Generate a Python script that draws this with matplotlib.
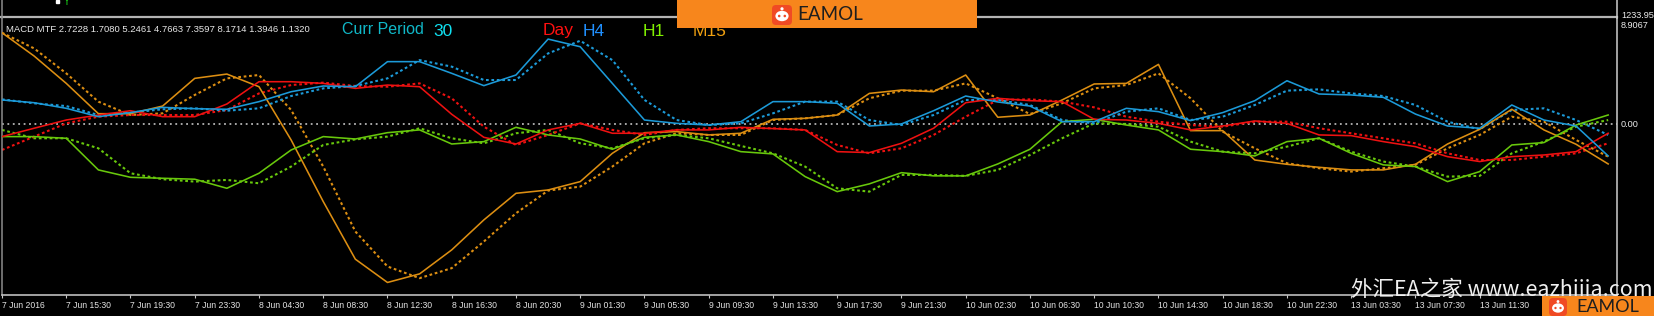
import numpy as np
import matplotlib.pyplot as plt
from matplotlib.patches import Rectangle, FancyBboxPatch, Ellipse
from matplotlib.lines import Line2D
from matplotlib.transforms import IdentityTransform

W, H = 1654, 316

# 30 min bars, one reading every 4 bars
bars = np.arange(0, 201, 4)

day_macd = [-1.03, -0.33, 0.36, 0.78, 1.14, 0.64, 0.64, 1.70, 3.57, 3.57, 3.43, 3.01, 3.29, 3.15, 0.84, -1.09, -1.65, -0.47,
            0.08, -0.75, -0.75, -0.47, -0.47, -0.25, -0.36, -0.47, -2.29, -2.37, -1.59, -0.33, 1.81, 2.18, 1.98, 1.90, 0.42,
            0.36, 0.08, -0.47, -0.14, 0.28, 0.08, -0.89, -0.95, -1.45, -1.87, -2.71, -3.12, -2.71, -2.57, -2.29, -0.75]
day_signal = [-2.15, -1.03, 0.08, 0.64, 0.78, 0.78, 0.78, 1.20, 2.59, 3.29, 3.49, 3.21, 3.15, 3.43, 2.18, -0.20, -1.73, -0.89,
              0.08, -0.47, -0.89, -0.47, -0.33, -0.33, -0.33, -0.47, -1.73, -2.43, -2.01, -0.89, 0.64, 2.04, 2.09, 1.90, 1.42,
              0.64, 0.22, -0.06, -0.20, 0.22, 0.22, -0.33, -0.75, -1.17, -1.59, -2.43, -2.99, -2.99, -2.71, -2.43, -1.59]

h4_macd = [2.04, 1.81, 1.34, 0.64, 0.98, 1.42, 1.31, 1.26, 1.90, 2.73, 3.21, 3.15, 5.25, 5.25, 4.27, 3.24, 4.13, 7.14,
           6.50, 3.43, 0.36, 0.08, -0.06, 0.22, 1.90, 1.90, 1.76, -0.14, 0.03, 1.14, 2.37, 1.87, 1.53, 0.22, 0.22,
           1.34, 1.06, 0.31, 0.98, 1.98, 3.65, 2.54, 2.46, 2.26, 0.86, -0.14, -0.33, 1.62, 0.36, -0.14, -2.65]
h4_signal = [2.09, 1.76, 1.53, 0.78, 0.98, 1.26, 1.34, 1.14, 1.34, 2.37, 3.01, 3.21, 3.85, 5.38, 4.83, 3.71, 3.71, 5.94,
             7.00, 5.38, 2.04, 0.36, -0.06, 0.08, 0.92, 1.90, 1.90, 0.36, -0.06, 0.78, 2.04, 2.04, 1.62, 0.36, 0.08,
             1.06, 1.34, 0.36, 0.64, 1.62, 2.82, 2.93, 2.59, 2.37, 1.62, 0.22, -0.42, 1.20, 1.34, 0.36, -0.89]

h1_macd = [-1.03, -1.03, -1.17, -3.82, -4.44, -4.52, -4.60, -5.36, -4.10, -2.15, -1.03, -1.23, -0.70, -0.47, -1.65, -1.45, -0.25, -0.89,
           -1.23, -2.09, -1.09, -0.89, -1.45, -2.29, -2.48, -4.38, -5.64, -4.99, -4.05, -4.32, -4.32, -3.32, -2.09, 0.22, 0.42,
           -0.06, -0.47, -2.09, -2.29, -2.65, -1.45, -1.17, -2.43, -3.40, -3.54, -4.80, -3.96, -1.73, -1.53, -0.06, 0.78]
h1_signal = [-0.47, -1.17, -1.17, -2.01, -4.10, -4.60, -4.80, -4.66, -4.94, -3.54, -1.73, -1.26, -1.03, -0.33, -1.17, -1.59, -0.75, -0.47,
             -1.59, -2.01, -1.17, -0.89, -1.17, -1.81, -2.43, -3.54, -5.36, -5.64, -4.24, -4.24, -4.32, -3.82, -2.57, -1.17, 0.08,
             0.03, -0.20, -1.45, -2.29, -2.43, -1.87, -1.17, -2.29, -3.12, -3.54, -4.38, -4.32, -2.43, -1.45, -0.20, 0.36]

m15_macd = [7.67, 5.72, 3.43, 0.89, 0.89, 1.53, 3.85, 4.21, 3.15, -1.31, -6.47, -11.30, -13.25, -12.53, -10.52, -8.01, -5.78, -5.50,
            -4.80, -2.43, -0.70, -0.61, -0.89, -0.75, 0.42, 0.50, 0.78, 2.59, 2.87, 2.73, 4.13, 0.59, 0.78, 2.04, 3.38,
            3.43, 5.02, -0.53, -0.53, -2.99, -3.35, -3.60, -3.82, -3.82, -3.35, -1.65, -0.42, 1.26, -0.47, -1.67, -3.32]
m15_signal = [7.67, 6.36, 4.27, 1.90, 0.78, 0.92, 2.46, 3.85, 4.13, 1.20, -3.54, -8.98, -11.91, -12.89, -12.05, -9.82, -7.45, -5.55,
              -5.22, -3.54, -1.59, -0.75, -0.89, -0.89, 0.36, 0.50, 0.78, 2.18, 2.82, 2.82, 3.43, 2.18, 0.86, 1.76, 3.01,
              3.29, 4.27, 2.18, -0.61, -2.01, -3.26, -3.68, -3.96, -3.68, -3.40, -2.01, -0.89, 0.64, 0.22, -1.31, -2.71]

# the label at bar 192 sits under the logo box in the screenshot
tick_bars = np.arange(0, 185, 8)
tick_labels = ['7 Jun 2016', '7 Jun 15:30', '7 Jun 19:30', '7 Jun 23:30', '8 Jun 04:30', '8 Jun 08:30',
               '8 Jun 12:30', '8 Jun 16:30', '8 Jun 20:30', '9 Jun 01:30', '9 Jun 05:30', '9 Jun 09:30',
               '9 Jun 13:30', '9 Jun 17:30', '9 Jun 21:30', '10 Jun 02:30', '10 Jun 06:30', '10 Jun 10:30',
               '10 Jun 14:30', '10 Jun 18:30', '10 Jun 22:30', '13 Jun 03:30', '13 Jun 07:30', '13 Jun 11:30']

buffer_values = '2.7228 1.7080 5.2461 4.7663 7.3597 8.1714 1.3946 1.1320'
y_top, y_bottom = 8.9067, -14.30

col_day = '#ee1111'
col_h4 = '#1c9ad8'
col_h1 = '#68c80c'
col_m15 = '#dc8e12'


def fx(px):
    return px / W


def fy(py):
    return 1 - py / H


fig = plt.figure(figsize=(W / 100, H / 100), dpi=100, facecolor='black')
ax = fig.add_axes([fx(2), fy(295), (1617 - 2) / W, (295 - 18) / H], facecolor='black')

ax.axhline(0, color='#b4b4b4', lw=1.3, ls=(0, (1, 2)), zorder=1)

dots = (0, (1.3, 1.3))
for macd, signal, col in [(m15_macd, m15_signal, col_m15), (h1_macd, h1_signal, col_h1),
                          (day_macd, day_signal, col_day), (h4_macd, h4_signal, col_h4)]:
    ax.plot(bars, macd, color=col, lw=1.15, zorder=3)
    ax.plot(bars, signal, color=col, lw=1.5, ls=dots, zorder=2)

ax.set_xlim(0, 201.1)
ax.set_ylim(y_bottom, y_top)
ax.set_yticks([])
ax.set_xticks(tick_bars, tick_labels)
ax.tick_params(axis='x', length=2.5, width=0.8, color='#c8c8c8', pad=2,
               labelsize=6.2, labelcolor='#e4e4e4')
for lab in ax.get_xticklabels():
    lab.set_ha('left')
    lab.set_family('Liberation Sans')

ax.spines['top'].set_visible(False)
ax.spines['left'].set_color('#8c8c8c')
ax.spines['bottom'].set_color('#cfcfcf')
ax.spines['right'].set_color('#cfcfcf')
for sp in ax.spines.values():
    sp.set_linewidth(1.1)

# window separator and price scale border
fig.add_artist(Line2D([fx(0), fx(1617)], [fy(16.5), fy(16.5)], color='#b4b4b4', lw=1.6))
fig.add_artist(Line2D([fx(1617), fx(1617)], [fy(0), fy(18)], color='#cfcfcf', lw=1.1))
fig.add_artist(Line2D([fx(2), fx(2)], [fy(0), fy(18)], color='#8c8c8c', lw=1.1))

# bit of the main chart window above
fig.patches.append(Rectangle((fx(56), fy(3)), 3 / W, 3 / H, transform=fig.transFigure,
                             color='white', zorder=4))
fig.text(fx(66), fy(2), 'Y', color='#18d018', fontsize=7, ha='center', va='center')

# indicator header
fig.text(fx(6), fy(29), 'MACD MTF ' + buffer_values, color='#e8e8e8', fontsize=6.8,
         family='Liberation Sans', ha='left', va='center', zorder=5)
fig.text(fx(342), fy(30), 'Curr Period', color='#10b8c8', fontsize=11.5,
         family='Liberation Sans', ha='left', va='center', zorder=5)
fig.text(fx(433), fy(31), '30', color='#10e0f0', fontsize=12.5,
         family='Liberation Sans', ha='left', va='center', zorder=5)
for label, x, col in [('Day', 543, '#ff1010'), ('H4', 583, '#2090ff'),
                      ('H1', 643, '#80f000'), ('M15', 693, '#f0a010')]:
    fig.text(fx(x), fy(31), label, color=col, fontsize=12.5, family='Liberation Sans',
             ha='left', va='center', zorder=5)

# price scale labels
for label, y in [('1233.95', 15), ('8.9067', 26), ('0.00', 124.5)]:
    fig.text(fx(1621), fy(y), label, color='#ececec', fontsize=6.6, family='Liberation Sans',
             ha='left', va='center', zorder=5)

# watermark
fig.text(fx(1351), fy(289), '外汇EA之家 www.eazhijia.com', color='#f0f0f0', fontsize=15.5,
         family=['Noto Sans CJK SC', 'DejaVu Sans'], ha='left', va='center', zorder=6)


def eamol(x0, y0, w, h, ix, iy, isz, tx, ty, fs):
    idt = IdentityTransform()
    fig.add_artist(Rectangle((x0, H - y0 - h), w, h, transform=idt, fc='#f7861c', ec='none', zorder=10))
    fig.add_artist(FancyBboxPatch((ix, H - iy - isz), isz, isz, boxstyle='round,pad=0,rounding_size=4',
                                  transform=idt, fc='#f04a24', ec='none', zorder=11))
    cx, cy = ix + isz / 2, H - iy - isz / 2 - 1
    fig.add_artist(Ellipse((cx, cy), isz * 0.66, isz * 0.52, transform=idt, fc='white', zorder=12))
    fig.add_artist(Ellipse((cx, cy + isz * 0.36), isz * 0.16, isz * 0.16, transform=idt, fc='white', zorder=12))
    for dx in (-0.14, 0.14):
        fig.add_artist(Ellipse((cx + dx * isz, cy), isz * 0.13, isz * 0.13, transform=idt,
                               fc='#f04a24', zorder=13))
    fig.text(fx(tx), fy(ty), 'EAMOL', color='#1e1e1e', fontsize=fs, family='Lato',
             ha='left', va='center', zorder=13)


eamol(677, 0, 300, 28, 772, 5, 20, 797, 15, 13.5)
eamol(1542, 296, 112, 20, 1549, 298, 18, 1576, 307, 13)

fig.savefig('out.png', dpi=100, facecolor='black')
